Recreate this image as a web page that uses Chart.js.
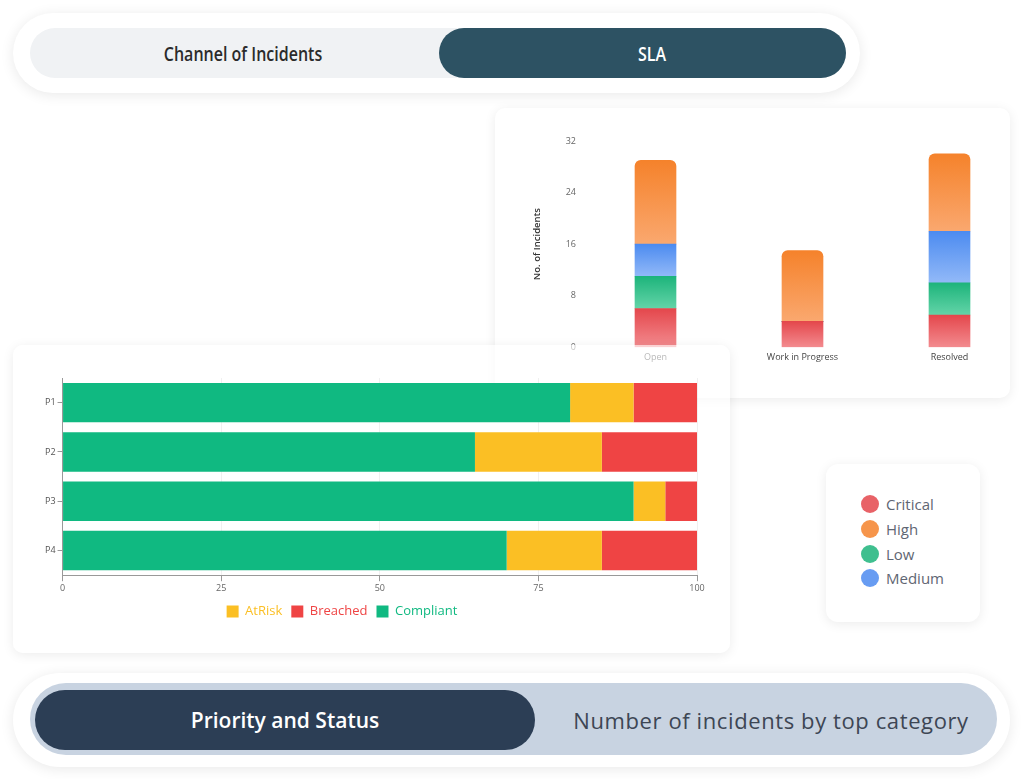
<!DOCTYPE html>
<html>
<head>
<meta charset="utf-8">
<title>SLA dashboard</title>
<script src="https://cdn.jsdelivr.net/npm/chart.js@4.4.0/dist/chart.umd.min.js"></script>
<style>
  html, body { margin: 0; padding: 0; background: #fff; }
  body { width: 1024px; height: 779px; position: relative; overflow: hidden; font-family: "Open Sans", "Noto Sans", sans-serif; }
  .pill { position: absolute; background: #fff; box-shadow: 0 2px 14px rgba(0,0,0,0.09); }
  .track { position: absolute; }
  .active { position: absolute; }
  .tab { position: absolute; display: flex; align-items: center; justify-content: center; white-space: nowrap; }
  .tab span { display: inline-block; }
  .card { position: absolute; background: #fff; border-radius: 10px; box-shadow: 0 2px 12px rgba(0,0,0,0.08); }

  #topTabs { left: 13px; top: 13px; width: 847px; height: 80px; border-radius: 40px; }
  #topTabs .track { left: 17px; top: 15px; width: 816px; height: 50px; border-radius: 25px; background: #f0f2f4; }
  #topTabs .active { left: 409px; top: 0; width: 407px; height: 50px; border-radius: 25px; background: #2d5263; }
  #topTabs .tab { top: 0; height: 50px; font-size: 16px; font-weight: 600; }
  #topTabs .tab span { transform: scaleY(1.25); }

  #bottomTabs { left: 13px; top: 673px; width: 997px; height: 94px; border-radius: 47px; }
  #bottomTabs .track { left: 17px; top: 10px; width: 967px; height: 72px; border-radius: 36px; background: #c8d3e1; }
  #bottomTabs .active { left: 5px; top: 7px; width: 500px; height: 60px; border-radius: 30px; background: #2c3e55; }
  #bottomTabs .tab { top: 7px; height: 60px; font-size: 21px; font-weight: 600; }

  #statusCard { left: 495px; top: 108px; width: 515px; height: 290px; z-index: 1; }
  #statusCard canvas { position: absolute; left: 0; top: 0; }
  #priorityCard { left: 13px; top: 345px; width: 717px; height: 308px; z-index: 2; background: rgba(255,255,255,0.62); }
  #priorityCard canvas { position: absolute; left: 0; top: 0; }

  #legendCard { left: 826px; top: 464px; width: 154px; height: 158px; border-radius: 12px; }
  #severityLegend { position: absolute; left: 35px; top: 28px; margin: 0; padding: 0; list-style: none; }
  #severityLegend li { height: 24.7px; display: flex; align-items: center; font-size: 15px; color: #5f6673; }
  #severityLegend .dot { width: 18px; height: 18px; border-radius: 50%; margin-right: 7px; }
</style>
</head>
<body>

<div class="pill" id="topTabs">
  <div class="track">
    <div class="active"></div>
    <div class="tab" style="left:0;width:426px;color:#2b2b2b;"><span>Channel of Incidents</span></div>
    <div class="tab" style="left:426px;width:392px;color:#fff;"><span>SLA</span></div>
  </div>
</div>

<div class="card" id="statusCard">
  <canvas id="statusChart" width="530" height="290"></canvas>
</div>

<div class="card" id="priorityCard">
  <canvas id="priorityChart" width="717" height="308"></canvas>
</div>

<div class="card" id="legendCard">
  <ul id="severityLegend"></ul>
</div>

<div class="pill" id="bottomTabs">
  <div class="track">
    <div class="active"></div>
    <div class="tab" style="left:5px;width:500px;color:#fff;"><span>Priority and Status</span></div>
    <div class="tab" style="left:505px;width:472px;color:#3d4654;font-weight:400;font-size:22px;letter-spacing:0.6px;"><span>Number of incidents by top category</span></div>
  </div>
</div>

<script>
// incidents per status, stacked by severity (bottom to top)
const statusLabels = ['Open', 'Work in Progress', 'Resolved'];
const criticalCounts = [6, 4, 5];
const lowCounts = [5, 0, 5];
const mediumCounts = [5, 0, 8];
const highCounts = [13, 11, 12];
const incidentTickStep = 8;
const incidentMax = 32;

// SLA share per priority
const priorityLabels = ['P1', 'P2', 'P3', 'P4'];
const compliantPct = [80, 65, 90, 70];
const atRiskPct = [10, 20, 5, 15];
const breachedPct = [10, 15, 5, 15];
const pctTickStep = 25;

const severityColors = {
  Critical: ['#e4474c', '#f38b8f'],
  Low: ['#1db47b', '#63d4a8'],
  Medium: ['#4c8bf0', '#92b9f8'],
  High: ['#f5822b', '#faa86f'],
};

Chart.defaults.font.family = '"Open Sans", "Noto Sans", sans-serif';

// vertical gradient for each stacked segment, computed via the y scale
function segmentFill(name) {
  const [top, bottom] = severityColors[name];
  return function (ctx) {
    const chart = ctx.chart;
    const y = chart.scales.y;
    if (ctx.type !== 'data' || !y || !chart.chartArea) return top;
    let base = 0;
    for (let i = 0; i < ctx.datasetIndex; i++) {
      base += chart.data.datasets[i].data[ctx.dataIndex];
    }
    const value = chart.data.datasets[ctx.datasetIndex].data[ctx.dataIndex];
    const y0 = y.getPixelForValue(base + value);
    const y1 = y.getPixelForValue(base);
    if (!isFinite(y0) || !isFinite(y1) || y0 === y1) return top;
    const g = chart.ctx.createLinearGradient(0, y0, 0, y1);
    g.addColorStop(0, top);
    g.addColorStop(1, bottom);
    return g;
  };
}

function severityDataset(name, data, rounded) {
  return {
    label: name,
    data: data,
    backgroundColor: segmentFill(name),
    borderWidth: 0,
    borderRadius: rounded ? { topLeft: 6, topRight: 6, bottomLeft: 0, bottomRight: 0 } : 0,
    borderSkipped: rounded ? 'start' : false,
    barThickness: 41,
  };
}

const statusChart = new Chart(document.getElementById('statusChart'), {
  type: 'bar',
  data: {
    labels: statusLabels,
    datasets: [
      severityDataset('Critical', criticalCounts),
      severityDataset('Low', lowCounts),
      severityDataset('Medium', mediumCounts),
      severityDataset('High', highCounts, true),
    ],
  },
  options: {
    responsive: false,
    animation: false,
    devicePixelRatio: 1,
    layout: { padding: { left: 33, right: 2, top: 33, bottom: 30 } },
    plugins: { legend: { display: false }, tooltip: { enabled: false } },
    scales: {
      x: {
        stacked: true,
        grid: { display: false, drawTicks: false },
        border: { display: false },
        ticks: { color: '#444', font: { size: 9 }, padding: 5 },
      },
      y: {
        stacked: true,
        min: 0,
        max: incidentMax,
        afterFit: (scale) => { scale.width = 54; },
        grid: { display: false, drawTicks: false },
        border: { display: false },
        ticks: { stepSize: incidentTickStep, color: '#666', font: { size: 9 }, padding: 6 },
        title: { display: true, text: 'No. of Incidents', color: '#333', font: { size: 9.5, weight: '600' }, padding: 4 },
      },
    },
  },
});

// html legend for the severity chart, alphabetical like the original
const legendList = document.getElementById('severityLegend');
statusChart.data.datasets
  .map(ds => ds.label)
  .sort()
  .forEach(name => {
    const li = document.createElement('li');
    li.innerHTML = `<span class="dot" style="background:${severityColors[name][0]};opacity:0.85"></span>${name}`;
    legendList.appendChild(li);
  });

// original legend sits a bit left of the plot centre
const legendShift = {
  id: 'legendShift',
  afterLayout(chart) {
    if (chart.legend) {
      chart.legend.left -= 28;
      chart.legend.right -= 28;
    }
  },
};

const priorityChart = new Chart(document.getElementById('priorityChart'), {
  type: 'bar',
  data: {
    labels: priorityLabels,
    datasets: [
      { label: 'Compliant', data: compliantPct, backgroundColor: '#10b981' },
      { label: 'AtRisk', data: atRiskPct, backgroundColor: '#fbbf24' },
      { label: 'Breached', data: breachedPct, backgroundColor: '#ef4444' },
    ],
  },
  plugins: [legendShift],
  options: {
    indexAxis: 'y',
    responsive: false,
    animation: false,
    devicePixelRatio: 1,
    datasets: { bar: { barPercentage: 0.8, categoryPercentage: 1.0, borderWidth: 0 } },
    layout: { padding: { left: 30, right: 33, top: 33, bottom: 25 } },
    plugins: {
      tooltip: { enabled: false },
      legend: {
        position: 'bottom',
        labels: {
          boxWidth: 12,
          boxHeight: 12,
          padding: 9,
          font: { size: 13 },
          sort: (a, b) => a.text.localeCompare(b.text),
          generateLabels: (chart) =>
            Chart.defaults.plugins.legend.labels.generateLabels(chart).map(item => ({
              ...item,
              fontColor: item.fillStyle,
              lineWidth: 0,
            })),
        },
      },
    },
    scales: {
      x: {
        stacked: true,
        min: 0,
        max: 100,
        grid: { color: 'rgba(0,0,0,0.06)', tickColor: '#999', tickLength: 6 },
        border: { color: '#999' },
        ticks: { stepSize: pctTickStep, color: '#666', font: { size: 9 }, padding: 2 },
      },
      y: {
        stacked: true,
        grid: { offset: false, drawOnChartArea: false, tickColor: '#999', tickLength: 5 },
        border: { color: '#999' },
        ticks: { color: '#555', font: { size: 9 }, padding: 2 },
      },
    },
  },
});
</script>
</body>
</html>
